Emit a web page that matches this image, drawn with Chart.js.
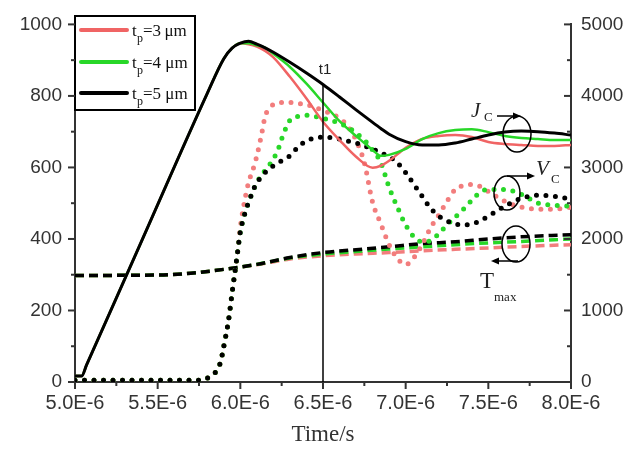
<!DOCTYPE html>
<html>
<head>
<meta charset="utf-8">
<script src="https://cdn.jsdelivr.net/npm/chart.js@4.4.0/dist/chart.umd.min.js"></script>
<style>
  html, body { margin: 0; padding: 0; background: #fff; }
  #grafico { display: block; }
</style>
</head>
<body>
<canvas id="grafico" width="630" height="456"></canvas>
<script>
// Tiempo en µs (el eje se rotula en segundos: 5.0E-6 ... 8.0E-6)
const xTickValues = [5.0, 5.5, 6.0, 6.5, 7.0, 7.5, 8.0];
const xTickLabels = ['5.0E-6', '5.5E-6', '6.0E-6', '6.5E-6', '7.0E-6', '7.5E-6', '8.0E-6'];

// J_C (eje derecho)
const jcTime = [5.0, 5.04, 5.07, 5.4, 5.8, 5.9, 5.95, 6.0, 6.05, 6.1, 6.15, 6.2, 6.3, 6.4, 6.5, 6.6,
  6.7, 6.8, 6.85, 6.9, 7.0, 7.1, 7.2, 7.3, 7.4, 7.5, 7.6, 7.7, 7.8, 7.9, 8.0];
const jc5 = [83, 83, 239, 1955, 4035, 4520, 4668, 4737, 4764, 4723, 4672, 4610, 4470, 4320, 4160, 3985,
  3805, 3630, 3545, 3465, 3360, 3314, 3314, 3342, 3397, 3453, 3494, 3508, 3500, 3480, 3453];
const jc4 = [83, 83, 239, 1955, 4035, 4520, 4668, 4737, 4737, 4709, 4675, 4590, 4405, 4171, 3908, 3646,
  3439, 3245, 3162, 3176, 3259, 3397, 3480, 3522, 3535, 3494, 3439, 3411, 3397, 3383, 3383];
const jc3 = [83, 83, 239, 1955, 4035, 4520, 4668, 4737, 4723, 4690, 4630, 4540, 4267, 3963, 3640, 3383,
  3150, 2997, 3024, 3093, 3273, 3397, 3439, 3453, 3425, 3356, 3328, 3314, 3301, 3301, 3314];

// V_C (eje derecho)
const vcTime = [5.0, 5.75, 5.8, 5.85, 5.88, 5.9, 5.93, 5.95, 5.98, 6.0, 6.03, 6.05, 6.08, 6.1, 6.13, 6.15,
  6.18, 6.2, 6.23, 6.25, 6.3, 6.35, 6.4, 6.45, 6.5, 6.6, 6.65, 6.7, 6.75, 6.8, 6.85, 6.9, 6.95, 7.0,
  7.05, 7.1, 7.15, 7.2, 7.25, 7.3, 7.35, 7.4, 7.45, 7.5, 7.6, 7.7, 7.8, 7.9, 8.0];
const vc5 = [25, 25, 55, 138, 276, 500, 884, 1243, 1754, 2099, 2375, 2513, 2693, 2790, 2872, 2928,
  2983, 3024, 3066, 3093, 3162, 3287, 3370, 3411, 3425, 3397, 3370, 3342, 3301, 3259, 3204, 3149, 3066, 2928,
  2762, 2596, 2431, 2320, 2251, 2210, 2196, 2210, 2251, 2320, 2458, 2569, 2610, 2596, 2555];
const vc4 = [25, 25, 55, 138, 276, 500, 884, 1243, 1754, 2099, 2375, 2513, 2693, 2790, 2900, 2960,
  3050, 3120, 3260, 3400, 3660, 3715, 3729, 3715, 3687, 3618, 3563, 3480, 3383, 3245, 3066, 2720, 2444, 2196,
  2030, 1961, 1975, 2072, 2196, 2306, 2417, 2541, 2652, 2693, 2693, 2624, 2500, 2472, 2458];
const vc3 = [25, 25, 55, 138, 276, 500, 884, 1243, 1754, 2168, 2582, 2790, 2997, 3162, 3480, 3715,
  3839, 3881, 3894, 3908, 3908, 3894, 3881, 3839, 3798, 3687, 3577, 3383, 3066, 2513, 2210, 1920, 1726, 1643,
  1740, 1920, 2154, 2334, 2527, 2693, 2748, 2762, 2734, 2665, 2527, 2444, 2417, 2417, 2444];

// T_max (eje izquierdo)
const tmTime = [5.0, 5.5, 5.7, 5.9, 6.1, 6.3, 6.5, 6.7, 6.9, 7.1, 7.3, 7.5, 7.7, 8.0];
const tm5 = [298, 299, 304, 315, 329, 348, 362, 370, 378, 387, 392, 400, 406, 412];
const tm4 = [298, 299, 304, 315, 329, 347, 358, 365, 372, 378, 384, 389, 393, 400];
const tm3 = [298, 299, 304, 315, 328, 344, 353, 358, 362, 367, 371, 375, 379, 384];

const SANS = '"Liberation Sans", Arial, sans-serif';
const SERIF = '"Liberation Serif", "Times New Roman", serif';
const ROJO = 'rgb(240, 100, 100)';
const ROJO_PUNTOS = 'rgb(242, 125, 125)';
const VERDE = 'rgb(40, 215, 40)';
const NEGRO = '#000';
const EJE = '#333';

const serie = (tiempos, valores) => tiempos.map((t, i) => ({ x: t, y: valores[i] }));

const solida = (datos, color, ancho) => ({
  data: datos, borderColor: color, borderWidth: ancho, yAxisID: 'y1',
  pointRadius: 0, fill: false, cubicInterpolationMode: 'monotone'
});
const punteada = (datos, color) => ({
  data: datos, borderColor: color, borderWidth: 5, yAxisID: 'y1',
  borderDash: [0, 9.5], borderCapStyle: 'round',
  pointRadius: 0, fill: false, cubicInterpolationMode: 'monotone'
});
const discontinua = (datos, color) => ({
  data: datos, borderColor: color, borderWidth: 3.5, yAxisID: 'y',
  borderDash: [9, 5], pointRadius: 0, fill: false, cubicInterpolationMode: 'monotone'
});

function linea(ctx, x1, y1, x2, y2) {
  ctx.beginPath();
  ctx.moveTo(x1, y1);
  ctx.lineTo(x2, y2);
  ctx.stroke();
}

function flecha(ctx, x1, y, x2) {
  const dir = Math.sign(x2 - x1);
  linea(ctx, x1, y, x2 - dir * 5, y);
  ctx.beginPath();
  ctx.moveTo(x2, y);
  ctx.lineTo(x2 - dir * 8, y - 3.5);
  ctx.lineTo(x2 - dir * 8, y + 3.5);
  ctx.closePath();
  ctx.fill();
}

function elipse(ctx, cx, cy, rx, ry) {
  ctx.beginPath();
  ctx.ellipse(cx, cy, rx, ry, 0, 0, Math.PI * 2);
  ctx.stroke();
}

// Marcas de los ejes (principales y secundarias)
const marcasEjes = {
  id: 'marcasEjes',
  afterDraw(chart) {
    const { ctx, chartArea: a, scales } = chart;
    ctx.save();
    ctx.strokeStyle = EJE;
    ctx.lineWidth = 2;
    for (let v = 0; v <= 1000; v += 100) {
      const py = scales.y.getPixelForValue(v);
      linea(ctx, a.left - (v % 200 === 0 ? 7 : 4), py, a.left, py);
    }
    for (let v = 0; v <= 5000; v += 500) {
      const py = scales.y1.getPixelForValue(v);
      linea(ctx, a.right, py, a.right - (v % 1000 === 0 ? 7 : 4), py);
    }
    for (let i = 0; i <= 12; i++) {
      const px = scales.x.getPixelForValue(5 + i * 0.25);
      linea(ctx, px, a.bottom, px, a.bottom + (i % 2 === 0 ? 7 : 4));
    }
    ctx.restore();
  }
};

// Leyenda, línea t1 y rótulos de cada familia de curvas
const rotulos = {
  id: 'rotulos',
  afterDatasetsDraw(chart) {
    const { ctx, chartArea: a, scales: { x, y1 } } = chart;
    ctx.save();

    // línea vertical en t1 = 6.5E-6
    const xt1 = x.getPixelForValue(6.5);
    const yt1 = y1.getPixelForValue(jc5[jcTime.indexOf(6.5)]);
    ctx.strokeStyle = NEGRO;
    ctx.lineWidth = 1.5;
    linea(ctx, xt1, yt1, xt1, a.bottom);
    ctx.fillStyle = '#222';
    ctx.font = '15px ' + SANS;
    ctx.textAlign = 'center';
    ctx.fillText('t1', xt1 + 2, yt1 - 10);

    // leyenda
    const caja = { x: a.left, y: 16, w: 120, h: 94 };
    ctx.fillStyle = '#fff';
    ctx.fillRect(caja.x, caja.y, caja.w, caja.h);
    ctx.strokeStyle = NEGRO;
    ctx.lineWidth = 2;
    ctx.strokeRect(caja.x, caja.y, caja.w, caja.h);
    const filas = [
      { color: ROJO, texto: '=3\u2009\u03bcm', y: 30 },
      { color: VERDE, texto: '=4 \u03bcm', y: 62 },
      { color: NEGRO, texto: '=5 \u03bcm', y: 93 }
    ];
    ctx.textAlign = 'left';
    filas.forEach(f => {
      ctx.strokeStyle = f.color;
      ctx.lineWidth = 4;
      ctx.lineCap = 'round';
      linea(ctx, 81, f.y, 127, f.y);
      ctx.fillStyle = '#111';
      ctx.font = '17px ' + SERIF;
      ctx.fillText('t', 132, f.y + 6);
      ctx.font = '12px ' + SERIF;
      ctx.fillText('p', 137, f.y + 12);
      ctx.font = '17px ' + SERIF;
      ctx.fillText(f.texto, 143, f.y + 6);
    });

    // elipses con flechas hacia su eje
    ctx.strokeStyle = NEGRO;
    ctx.fillStyle = NEGRO;
    ctx.lineWidth = 1.5;
    ctx.lineCap = 'butt';
    elipse(ctx, 517, 134, 14, 18);
    flecha(ctx, 497, 116, 521);
    elipse(ctx, 507, 193, 13, 17);
    flecha(ctx, 507, 176, 535);
    elipse(ctx, 516, 244, 14, 18);
    flecha(ctx, 518, 261, 491);

    ctx.fillStyle = '#222';
    ctx.font = 'italic 21px ' + SERIF;
    ctx.fillText('J', 471, 117);
    ctx.fillText('V', 536, 175);
    ctx.font = '13px ' + SERIF;
    ctx.fillText('C', 484, 121);
    ctx.fillText('C', 551, 183);
    ctx.font = '23px ' + SERIF;
    ctx.fillText('T', 480, 288);
    ctx.font = '13px ' + SERIF;
    ctx.fillText('max', 494, 301);
    ctx.restore();
  }
};

const config = {
  type: 'line',
  data: {
    datasets: [
      solida(serie(jcTime, jc5), NEGRO, 3),
      solida(serie(jcTime, jc4), VERDE, 2.5),
      solida(serie(jcTime, jc3), ROJO, 2.5),
      punteada(serie(vcTime, vc5), NEGRO),
      punteada(serie(vcTime, vc4), VERDE),
      punteada(serie(vcTime, vc3), ROJO_PUNTOS),
      discontinua(serie(tmTime, tm5), NEGRO),
      discontinua(serie(tmTime, tm4), VERDE),
      discontinua(serie(tmTime, tm3), ROJO_PUNTOS)
    ]
  },
  options: {
    responsive: false,
    animation: false,
    devicePixelRatio: 1,
    layout: { padding: { top: 20, left: 0, right: 0, bottom: 0 } },
    plugins: {
      legend: { display: false },
      tooltip: { enabled: false }
    },
    scales: {
      x: {
        type: 'linear',
        min: 5,
        max: 8,
        afterBuildTicks: s => { s.ticks = xTickValues.map(v => ({ value: v })); },
        afterFit: s => { s.height = 74; },
        grid: { display: false, drawTicks: false },
        border: { display: true, color: EJE, width: 2 },
        ticks: {
          callback: (v, i) => xTickLabels[i],
          color: '#333',
          font: { family: SANS, size: 20 },
          padding: 9,
          maxRotation: 0,
          autoSkip: false
        },
        title: {
          display: true,
          text: 'Time/s',
          color: '#333',
          font: { family: SERIF, size: 23 },
          padding: { top: 0, bottom: 7 }
        }
      },
      y: {
        position: 'left',
        min: 0,
        max: 1000,
        afterFit: s => { s.width = 75; },
        grid: { display: false, drawTicks: false },
        border: { display: true, color: EJE, width: 2 },
        ticks: {
          stepSize: 200,
          callback: v => String(v),
          color: '#333',
          font: { family: SANS, size: 19 },
          padding: 13
        }
      },
      y1: {
        position: 'right',
        min: 0,
        max: 5000,
        afterFit: s => { s.width = 59; },
        grid: { display: false, drawTicks: false },
        border: { display: true, color: EJE, width: 2 },
        ticks: {
          stepSize: 1000,
          callback: v => String(v),
          color: '#333',
          font: { family: SANS, size: 19 },
          padding: 10
        }
      }
    }
  },
  plugins: [rotulos, marcasEjes]
};

window.addEventListener('DOMContentLoaded', () => {
  const ctx = document.getElementById('grafico').getContext('2d');
  new Chart(ctx, config);
});
</script>
</body>
</html>
